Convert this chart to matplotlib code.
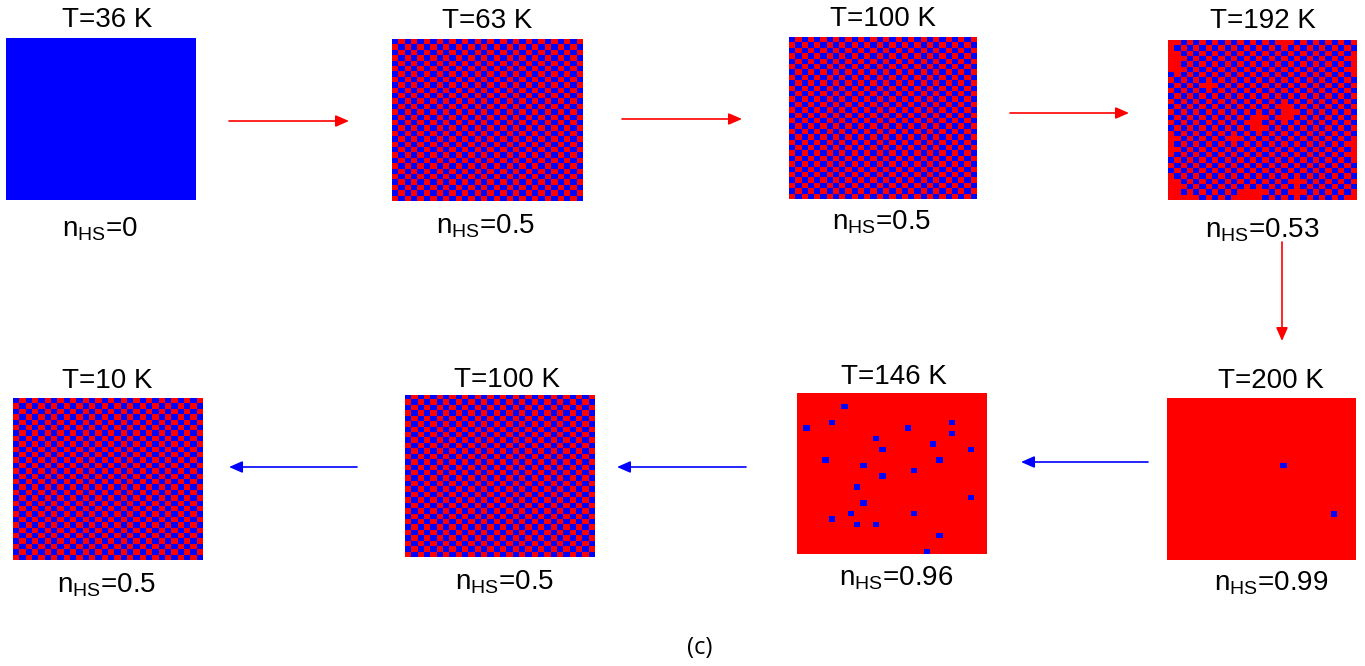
import numpy as np
import matplotlib
matplotlib.use("Agg")
import matplotlib.pyplot as plt
from matplotlib.colors import ListedColormap
from matplotlib.patches import FancyArrowPatch

W, H = 1365, 666
N = 30  # lattice size (30 x 30)

# ---- panel data ----
temps = ["T=36 K", "T=63 K", "T=100 K", "T=192 K",
         "T=10 K", "T=100 K", "T=146 K", "T=200 K"]
n_hs = ["0", "0.5", "0.5", "0.53", "0.5", "0.5", "0.96", "0.99"]
# base state of each lattice: "LS" all blue, "HS" all red, "AF" checkerboard
base = ["LS", "AF", "AF", "AF", "AF", "AF", "HS", "HS"]
# flipped sites (row, col), counted from top-left
flips_192 = [(0, 0), (2, 0), (4, 0), (3, 1), (5, 1), (0, 18), (3, 29), (5, 29),
             (8, 6), (12, 18), (13, 19), (14, 18), (14, 14), (15, 13), (16, 14),
             (18, 10), (18, 0), (20, 0), (26, 0), (28, 0), (27, 1), (29, 1),
             (29, 3), (28, 12), (28, 14), (29, 11), (29, 13), (26, 20), (28, 20),
             (29, 29), (19, 29), (21, 29)]
flips_146 = [(2, 7), (5, 5), (6, 1), (6, 17), (5, 24), (7, 24), (8, 12), (9, 21),
             (10, 13), (10, 27), (12, 4), (12, 22), (13, 10), (14, 18), (15, 13),
             (17, 9), (19, 27), (20, 10), (22, 8), (23, 5), (22, 18), (24, 9),
             (24, 12), (26, 22), (29, 20)]
flips_200 = [(12, 18), (21, 26)]
flips = [[], [], [], flips_192, [], [], flips_146, flips_200]

# ---- layout in pixels ----
boxes = [(6, 38, 195, 200), (392, 39, 582, 201), (789, 37, 977, 199), (1168, 40, 1357, 200),
         (13, 398, 203, 560), (405, 395, 595, 557), (797, 393, 986, 554), (1167, 398, 1356, 560)]
title_xy = [(107, 20), (487, 21), (883, 19), (1263, 21),
            (107, 381), (507, 380), (894, 377), (1271, 381)]
label_xy = [(100, 229), (486, 226), (882, 222), (1262, 230),
            (107, 585), (505, 582), (896, 578), (1271, 583)]
arrows = [((229, 121), (349, 121), "red"), ((622, 119), (742, 119), "red"),
          ((1010, 113), (1129, 113), "red"), ((1282, 242), (1282, 341), "red"),
          ((1148, 462), (1021, 462), "blue"), ((746, 467), (617, 467), "blue"),
          ((357, 467), (229, 467), "blue")]

plt.rcParams["font.family"] = ["Liberation Sans", "DejaVu Sans"]
plt.rcParams["mathtext.fontset"] = "custom"
plt.rcParams["mathtext.rm"] = "Liberation Sans"

fig = plt.figure(figsize=(W / 100, H / 100), dpi=100)
cmap = ListedColormap(["#0000ff", "#ff0000"])

def fx(x): return x / W
def fy(y): return 1 - y / H

rr, cc = np.indices((N, N))
for i in range(8):
    if base[i] == "LS":
        grid = np.zeros((N, N), int)
    elif base[i] == "HS":
        grid = np.ones((N, N), int)
    else:
        grid = ((rr + cc) % 2).astype(int)
    for r, c in flips[i]:
        grid[r, c] = 1 - grid[r, c]
    x0, y0, x1, y1 = boxes[i]
    ax = fig.add_axes([fx(x0), fy(y1), (x1 - x0) / W, (y1 - y0) / H])
    ax.imshow(grid, cmap=cmap, vmin=0, vmax=1, aspect="auto", interpolation="nearest")
    ax.axis("off")
    fig.text(fx(title_xy[i][0]), fy(title_xy[i][1]), temps[i], ha="center", va="center", fontsize=20)
    fig.text(fx(label_xy[i][0]), fy(label_xy[i][1]), r"$\mathregular{n_{HS}}$=" + n_hs[i],
             ha="center", va="center", fontsize=20)

for (xa, ya), (xb, yb), col in arrows:
    fig.patches.append(FancyArrowPatch((fx(xa), fy(ya)), (fx(xb), fy(yb)), transform=fig.transFigure,
                                       arrowstyle="-|>,head_length=8,head_width=3.5",
                                       color=col, lw=1.2, shrinkA=0, shrinkB=0))

fig.text(fx(700), fy(648), "(c)", ha="center", va="center", fontsize=17, family="Open Sans")

fig.savefig("out.png", dpi=100, facecolor="white")
